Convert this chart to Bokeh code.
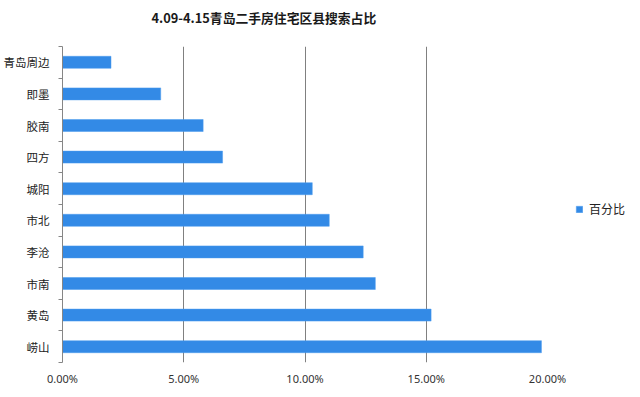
from bokeh.plotting import figure
from bokeh.models import (Range1d, FixedTicker, NumeralTickFormatter, Legend,
                          LegendItem, Title, ColumnDataSource)
from bokeh.embed import file_html
from bokeh.resources import INLINE

# data (bottom to top)
districts = ["崂山", "黄岛", "市南", "李沧", "市北", "城阳", "四方", "胶南", "即墨", "青岛周边"]
share = [0.1975, 0.152, 0.129, 0.124, 0.110, 0.103, 0.066, 0.058, 0.0405, 0.020]
x_ticks = [0.0, 0.05, 0.10, 0.15, 0.20]
title_text = "4.09-4.15青岛二手房住宅区县搜索占比"
series_name = "百分比"
watermark = "房天下Fang.com"

pos = list(range(len(districts)))
src = ColumnDataSource(dict(y=pos, share=share, name=districts))

FONT = "Noto Sans CJK SC"

p = figure(frame_width=485, frame_height=316, output_backend="svg", toolbar_location=None,
           x_range=Range1d(0, 0.20), y_range=Range1d(-0.5, len(districts) - 0.5),
           title_location=None, min_border=0, min_border_right=86)

bars = p.hbar(y="y", right="share", left=0, height=0.38, source=src,
              fill_color="#338AE6", line_color="#4A9AEE", line_width=0.5)

# white spacer between title and frame (nearest the frame), then the title
spacer = Title(text=".", text_color="white", text_font_size="2px", standoff=12)
p.add_layout(spacer, "above")
main_title = Title(text=title_text, text_font=FONT, text_font_size="12.8px",
                   text_font_style="bold", text_color="#1a1a1a", align="left",
                   offset=89, standoff=10)
p.add_layout(main_title, "above")

# y axis
ya = p.yaxis[0]
ya.ticker = FixedTicker(ticks=pos, minor_ticks=[i - 0.5 for i in range(len(districts) + 1)])
ya.major_label_overrides = {i: n for i, n in zip(pos, districts)}
ya.major_tick_line_color = None
ya.major_tick_out = 0
ya.major_tick_in = 0
ya.minor_tick_line_color = "#868686"
ya.minor_tick_out = 4
ya.minor_tick_in = 0
ya.axis_line_color = "#868686"
ya.major_label_standoff = 9
ya.major_label_text_font = FONT
ya.major_label_text_font_size = "11.5px"
ya.major_label_text_color = "#222222"

# x axis
xa = p.xaxis[0]
xa.ticker = FixedTicker(ticks=x_ticks)
xa.formatter = NumeralTickFormatter(format="0.00%")
xa.axis_line_color = None
xa.major_tick_line_color = None
xa.minor_tick_line_color = None
xa.major_tick_out = 0
xa.major_label_standoff = 8
xa.major_label_text_font = "Noto Sans"
xa.major_label_text_font_size = "11px"
xa.major_label_text_color = "#333333"

p.xgrid.ticker = FixedTicker(ticks=x_ticks)
p.xgrid.grid_line_color = "#808080"
p.ygrid.grid_line_color = None
p.outline_line_color = None

legend = Legend(items=[LegendItem(label=series_name, renderers=[bars])],
                location=(28, 145), border_line_color=None, margin=0,
                background_fill_alpha=0, glyph_width=8, glyph_height=8,
                label_text_font=FONT, label_text_font_size="12px",
                label_text_color="#222222", padding=4, spacing=0,
                label_standoff=6)
p.add_layout(legend, "right")

# source watermark at the bottom-right corner, as a glyph-less legend entry
wm_r = p.scatter(x=[], y=[], alpha=0)
wm = Legend(items=[LegendItem(label=watermark, renderers=[wm_r])],
            location=(466, 15), border_line_color=None, margin=0,
            background_fill_alpha=0, glyph_width=1, glyph_height=1,
            label_height=10, label_text_font=FONT, label_text_font_size="15px",
            label_text_color="#b5262b", padding=0, spacing=0,
            label_standoff=0)
p.add_layout(wm, "below")

open("out.html", "w").write(file_html(p, INLINE))
